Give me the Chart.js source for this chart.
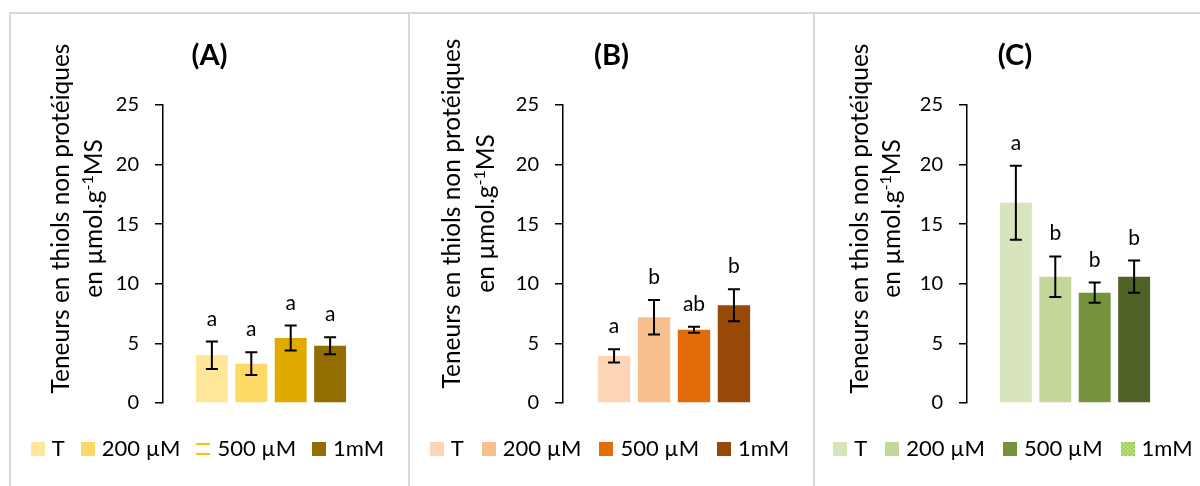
<!DOCTYPE html>
<html lang="fr">
<head>
<meta charset="utf-8">
<title>Teneurs en thiols non protéiques</title>
<script src="https://cdn.jsdelivr.net/npm/chart.js@4.4.0/dist/chart.umd.min.js"></script>
<style>
  html, body { margin: 0; padding: 0; background: #fff; }
  body { width: 1200px; height: 486px; position: relative; overflow: hidden; font-family: Lato, sans-serif; }
  .panel { position: absolute; top: 12px; height: 480px; border-left: 2px solid #d9d9d9; border-top: 2px solid #d9d9d9; }
  #pA { left: 9px; width: 397px; }
  #pB { left: 408px; width: 403px; }
  #pC { left: 813px; width: 400px; }
  .panel canvas { position: absolute; left: 0; top: 0; }
</style>
</head>
<body>
<div class="panel" id="pA"><canvas id="chartA" width="397" height="472"></canvas></div>
<div class="panel" id="pB"><canvas id="chartB" width="403" height="472"></canvas></div>
<div class="panel" id="pC"><canvas id="chartC" width="400" height="472"></canvas></div>
<script>
// traitements (légende)
const doses = ['T', '200 µM', '500 µM', '1mM'];

// axe des ordonnées
const yMin = 0;
const yMax = 25;
const yStep = 5;

// (A)
const meanA = [4.0, 3.3, 5.45, 4.8];
const errA = [1.15, 0.95, 1.05, 0.72];
const letA = ['a', 'a', 'a', 'a'];

// (B)
const meanB = [3.95, 7.2, 6.15, 8.2];
const errB = [0.55, 1.45, 0.25, 1.35];
const letB = ['a', 'b', 'ab', 'b'];

// (C)
const meanC = [16.8, 10.6, 9.25, 10.6];
const errC = [3.1, 1.7, 0.85, 1.35];
const letC = ['a', 'b', 'b', 'b'];

const FONT = 'Lato';

// petites vignettes de légende
function swatch(kind, color) {
  const c = document.createElement('canvas');
  c.width = 14;
  c.height = 14;
  const g = c.getContext('2d');
  g.fillStyle = color;
  if (kind === 'lines') {
    g.fillRect(0, 1, 14, 2);
    g.fillRect(0, 11, 14, 2);
  } else if (kind === 'checker') {
    g.fillStyle = '#C4E08A';
    g.fillRect(0, 0, 14, 14);
    g.fillStyle = color;
    for (let i = 0; i < 7; i++) {
      for (let j = 0; j < 7; j++) {
        if ((i + j) % 2 === 0) g.fillRect(i * 2, j * 2, 2, 2);
      }
    }
  } else {
    g.fillRect(0, 0, 14, 14);
  }
  return c;
}

// barres d'erreur + lettres de significativité
const errorBars = {
  id: 'errorBars',
  afterDatasetsDraw(chart, args, opts) {
    const { ctx } = chart;
    const y = chart.scales.y;
    ctx.save();
    ctx.strokeStyle = '#000';
    ctx.lineWidth = 2;
    ctx.fillStyle = '#000';
    ctx.font = '21px ' + FONT;
    ctx.textAlign = 'center';
    ctx.textBaseline = 'alphabetic';
    chart.data.datasets.forEach((ds, i) => {
      const bar = chart.getDatasetMeta(i).data[0];
      const v = ds.data[0];
      const e = opts.err[i];
      const top = y.getPixelForValue(v + e);
      const bot = y.getPixelForValue(v - e);
      ctx.beginPath();
      ctx.moveTo(bar.x, top);
      ctx.lineTo(bar.x, bot);
      ctx.moveTo(bar.x - 6, top);
      ctx.lineTo(bar.x + 6, top);
      ctx.moveTo(bar.x - 6, bot);
      ctx.lineTo(bar.x + 6, bot);
      ctx.stroke();
      ctx.fillText(opts.letters[i], bar.x, top - 16);
    });
    ctx.restore();
  }
};

// titre d'axe sur deux lignes avec exposant
const axisTitle = {
  id: 'axisTitle',
  afterDraw(chart, args, opts) {
    const { ctx, chartArea } = chart;
    const size = 24.5;
    const cy = chartArea.top + opts.cy;
    ctx.save();
    ctx.fillStyle = '#000';
    ctx.textBaseline = 'alphabetic';

    ctx.font = size + 'px ' + FONT;
    ctx.save();
    ctx.translate(chartArea.left + opts.x1, cy);
    ctx.rotate(-Math.PI / 2);
    ctx.textAlign = 'center';
    ctx.fillText('Teneurs en thiols non protéiques', 0, 0);
    ctx.restore();

    const parts = [
      { t: 'en µmol.g', s: size, r: 0 },
      { t: '-1', s: Math.round(size * 0.65), r: size * 0.36 },
      { t: 'MS', s: size, r: 0 }
    ];
    let total = 0;
    parts.forEach(p => {
      ctx.font = p.s + 'px ' + FONT;
      p.w = ctx.measureText(p.t).width;
      total += p.w;
    });
    ctx.save();
    ctx.translate(chartArea.left + opts.x2, cy);
    ctx.rotate(-Math.PI / 2);
    ctx.textAlign = 'left';
    let x = -total / 2;
    parts.forEach(p => {
      ctx.font = p.s + 'px ' + FONT;
      ctx.fillText(p.t, x, -p.r);
      x += p.w;
    });
    ctx.restore();
    ctx.restore();
  }
};

function makeChart(id, title, means, errs, letters, colors, swatches, geo) {
  const datasets = doses.map((d, i) => ({
    label: d,
    data: [means[i]],
    backgroundColor: colors[i],
    borderWidth: 0,
    categoryPercentage: geo.cat,
    barPercentage: 0.81
  }));

  return new Chart(document.getElementById(id), {
    type: 'bar',
    data: { labels: [''], datasets },
    plugins: [errorBars, axisTitle],
    options: {
      responsive: false,
      animation: false,
      devicePixelRatio: 1,
      layout: { padding: { left: 0, right: 0, top: 0, bottom: 16 } },
      scales: {
        x: {
          grid: { display: false },
          border: { display: false },
          ticks: { display: false },
          afterFit(s) { s.height = 13 + (22 - geo.legendPad); }
        },
        y: {
          min: yMin,
          max: yMax,
          ticks: { stepSize: yStep, padding: 16, color: '#000', font: { family: FONT, size: 20 } },
          grid: { drawOnChartArea: false, tickLength: 8, color: '#000', lineWidth: 1.5 },
          border: { color: '#000', width: 1.5 },
          afterFit(s) { s.width = geo.yWidth; }
        },
        // marge droite vide (garde la légende sur toute la largeur)
        yRight: {
          position: 'right',
          grid: { display: false },
          border: { display: false },
          ticks: { display: false },
          afterFit(s) { s.width = geo.padRight; }
        }
      },
      plugins: {
        title: {
          display: true,
          text: title,
          color: '#000',
          font: { family: FONT, size: 29, weight: 'bold' },
          padding: { top: 24, bottom: 32.2 }
        },
        legend: {
          position: 'bottom',
          labels: {
            usePointStyle: true,
            boxWidth: 6,
            boxHeight: 14,
            padding: geo.legendPad,
            color: '#000',
            font: { family: FONT, size: 22 },
            generateLabels(chart) {
              return chart.data.datasets.map((ds, i) => ({
                text: ds.label,
                pointStyle: swatches[i],
                fillStyle: ds.backgroundColor,
                strokeStyle: 'transparent',
                lineWidth: 0,
                fontColor: '#000',
                hidden: false,
                datasetIndex: i
              }));
            }
          }
        },
        tooltip: { enabled: false },
        errorBars: { err: errs, letters },
        axisTitle: geo.title
      }
    }
  });
}

const colorsA = ['#FFE699', '#FFD966', '#DFAB00', '#946D00'];
const colorsB = ['#FBD5B5', '#F9C08F', '#E36C0A', '#984807'];
const colorsC = ['#D8E4BC', '#C4D79B', '#76933C', '#4F6228'];

makeChart('chartA', '(A)', meanA, errA, letA, colorsA,
  [swatch('box', colorsA[0]), swatch('box', colorsA[1]), swatch('lines', '#FFC000'), swatch('box', colorsA[3])],
  { yWidth: 152, padRight: 29, cat: 0.73, legendPad: 20, title: { x1: -94, x2: -61, cy: 113.5 } });

makeChart('chartB', '(B)', meanB, errB, letB, colorsB,
  colorsB.map(c => swatch('box', c)),
  { yWidth: 153, padRight: 28, cat: 0.72, legendPad: 22, title: { x1: -103, x2: -69, cy: 108.5 } });

makeChart('chartC', '(C)', meanC, errC, letC, colorsC,
  [swatch('box', colorsC[0]), swatch('box', colorsC[1]), swatch('box', colorsC[2]), swatch('checker', '#92D050')],
  { yWidth: 152, padRight: 32, cat: 0.73, legendPad: 22, title: { x1: -99, x2: -67, cy: 113.5 } });
</script>
</body>
</html>
